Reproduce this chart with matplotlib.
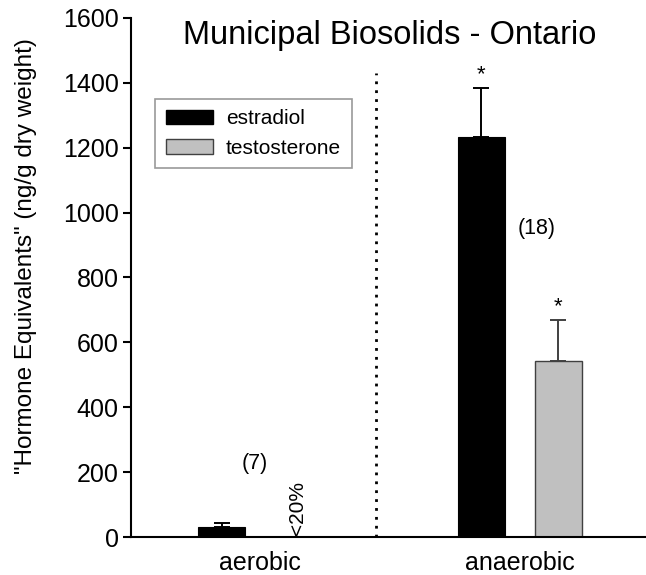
import numpy as np
import matplotlib
matplotlib.use('Agg')
import matplotlib.pyplot as plt
from matplotlib.patches import Patch

plt.rcParams['font.family'] = ['Liberation Sans', 'DejaVu Sans']

# data
groups = ['aerobic', 'anaerobic']
estradiol = [31, 1233]
estradiol_err = [12, 151]
testosterone = [np.nan, 543]
testosterone_err = [np.nan, 126]
n_labels = ['(7)', '(18)']
series_names = ['estradiol', 'testosterone']

fig = plt.figure(figsize=(6.46, 5.75), dpi=100)
ax = fig.add_axes([0.203, 0.066, 0.797, 0.903])

x = np.arange(len(groups))
off = 0.148
w = 0.18

ax.bar(x - off, estradiol, w, color='black', edgecolor='black', linewidth=0.8)
ax.bar(x + off, testosterone, w, color='#c0c0c0', edgecolor='#404040', linewidth=1.0)

ax.errorbar(x - off, estradiol, yerr=[np.zeros(2), estradiol_err], fmt='none',
            ecolor='black', elinewidth=1.4, capsize=6, capthick=1.4)
ax.errorbar(x + off, testosterone, yerr=[np.zeros(2), testosterone_err], fmt='none',
            ecolor='#404040', elinewidth=1.4, capsize=6, capthick=1.4)

# significance stars on anaerobic bars
ax.text(1 - off, estradiol[1] + estradiol_err[1] + 8, '*', ha='center', va='bottom', fontsize=16)
ax.text(1 + off, testosterone[1] + testosterone_err[1] + 8, '*', ha='center', va='bottom', fontsize=16)

# sample sizes and note
ax.text(-0.02, 228, n_labels[0], ha='center', va='center', fontsize=15.5)
ax.text(1.065, 952, n_labels[1], ha='center', va='center', fontsize=15.5)
ax.text(0.146, 89, '<20%', ha='center', va='center', rotation=90, fontsize=15)

# divider between groups (stops below the title)
ax.vlines(0.446, 0, 1430, color='black', linestyle=(0, (1, 2.2)), linewidth=2)

ax.set_xlim(-0.496, 1.485)
ax.set_ylim(0, 1600)
ax.set_yticks(np.arange(0, 1601, 200))
ax.set_xticks(x)
ax.set_xticklabels(groups, fontsize=18)
ax.tick_params(axis='y', labelsize=18, length=6, width=1.5, direction='out', pad=3)
ax.tick_params(axis='x', length=0, pad=10)
ax.spines['top'].set_visible(False)
ax.spines['right'].set_visible(False)
ax.spines['left'].set_linewidth(1.5)
ax.spines['bottom'].set_linewidth(1.5)

ax.set_ylabel('"Hormone Equivalents" (ng/g dry weight)', fontsize=17.5)
ax.yaxis.set_label_coords(-0.183, 0.541)
ax.text(0.5, 1520, 'Municipal Biosolids - Ontario', ha='center', va='baseline', fontsize=23.5)

handles = [Patch(facecolor='black', edgecolor='black'),
           Patch(facecolor='#c0c0c0', edgecolor='#404040')]
leg = ax.legend(handles, series_names, loc='upper left', bbox_to_anchor=(0.0466, 0.844),
                borderaxespad=0, fontsize=15, frameon=True, fancybox=False, edgecolor='#808080',
                handlelength=2.3, handleheight=0.72, borderpad=0.5, labelspacing=0.5,
                handletextpad=0.6)
leg.get_frame().set_linewidth(1.2)

fig.savefig('out.png', dpi=100)
